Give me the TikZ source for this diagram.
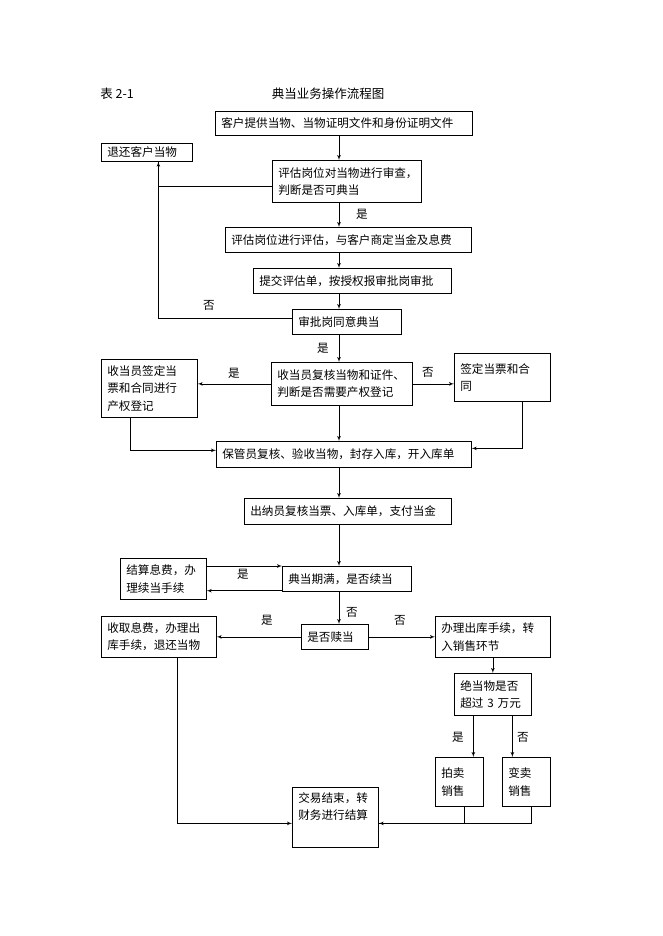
\documentclass[tikz,border=0pt]{standalone}
\usepackage{fontspec}
\setmainfont{Noto Sans CJK SC}
\usepackage{tikz}
\usetikzlibrary{arrows}
\newcommand{\boxfont}{\fontsize{11.6pt}{17.5pt}\selectfont}
\newcommand{\headfont}{\fontsize{12.5pt}{15pt}\selectfont}
\tikzstyle{block} = [draw, rectangle, anchor=north west, align=left, inner xsep=6pt, inner ysep=2pt, font=\boxfont]
\tikzstyle{lbl} = [inner sep=0pt, font=\boxfont]

\begin{document}
\begin{tikzpicture}[x=1pt, y=-1pt, >=latex', line width=0.7pt]
	\useasboundingbox (0,0) rectangle (662,936);
	\node [anchor=west, inner sep=0pt, font=\headfont] (tabno) at (100,94) {表 2-1};
	\node [inner sep=0pt, font=\headfont] (title) at (328,94) {典当业务操作流程图};

	\node [block, text width=245pt, minimum height=24pt] (provide) at (215,111) {客户提供当物、当物证明文件和身份证明文件};
	\node [block, text width=79pt, minimum height=18pt] (returnback) at (101,143) {退还客户当物};
	\node [block, text width=137pt, minimum height=42pt] (review) at (272,160) {评估岗位对当物进行审查，\\判断是否可典当};
	\node [block, text width=234pt, minimum height=25pt] (assess) at (225,227) {评估岗位进行评估，与客户商定当金及息费};
	\node [block, text width=186pt, minimum height=25pt] (submit) at (253,268) {提交评估单，按授权报审批岗审批};
	\node [block, text width=97pt, minimum height=25pt] (approve) at (292,309) {审批岗同意典当};
	\node [block, text width=129pt, minimum height=43pt] (check) at (271,362) {收当员复核当物和证件、\\判断是否需要产权登记};
	\node [block, text width=84pt, minimum height=58pt] (regist) at (101,359) {收当员签定当\\票和合同进行\\产权登记};
	\node [block, text width=84pt, minimum height=48pt] (sign) at (454,353) {签定当票和合\\同};
	\node [block, text width=243pt, minimum height=26pt] (store) at (216,441) {保管员复核、验收当物，封存入库，开入库单};
	\node [block, text width=195pt, minimum height=26pt] (pay) at (244,498) {出纳员复核当票、入库单，支付当金};
	\node [block, text width=117pt, minimum height=25pt] (expire) at (282,566) {典当期满，是否续当};
	\node [block, text width=74pt, minimum height=41pt] (renew) at (120,558) {结算息费，办\\理续当手续};
	\node [block, text width=55pt, minimum height=25pt] (redeem) at (301,624) {是否赎当};
	\node [block, text width=103pt, minimum height=41pt] (giveback) at (101,616) {收取息费，办理出\\库手续，退还当物};
	\node [block, text width=103pt, minimum height=41pt] (sell) at (435,616) {办理出库手续，转\\入销售环节};
	\node [block, text width=65pt, minimum height=42pt] (exceed) at (454,673) {绝当物是否\\超过 3 万元};
	\node [block, text width=36pt, minimum height=49pt] (auction) at (435,757) {拍卖\\销售};
	\node [block, text width=36pt, minimum height=49pt] (resell) at (502,757) {变卖\\销售};
	\node [block, text width=74pt, minimum height=60pt, text depth=40pt] (finish) at (292,787) {交易结束，转\\财务进行结算};

	\coordinate (spine) at (339,0);

	\draw[->] (provide.south -| spine) -- (review.north -| spine);
	\draw[->] ([yshift=-5pt]review.west) -| ([xshift=11.5pt]returnback.south);
	\draw ([yshift=3.5pt]approve.west) -| ([xshift=11.5pt]returnback.south);
	\draw[->] (review.south -| spine) -- (assess.north -| spine);
	\draw[->] (assess.south -| spine) -- (submit.north -| spine);
	\draw[->] (submit.south -| spine) -- (approve.north -| spine);
	\draw[->] (approve.south -| spine) -- (check.north -| spine);
	\draw[->] (check.west) -- (check.west -| regist.east);
	\draw[->] (check.east) -- (check.east -| sign.west);
	\draw[->] (check.south -| spine) -- (store.north -| spine);
	\draw[->] ([xshift=-19pt]regist.south) |- ([yshift=4pt]store.west);
	\draw[->] ([xshift=20pt]sign.south) |- ([yshift=6pt]store.east);
	\draw[->] (store.south -| spine) -- (pay.north -| spine);
	\draw[->] (pay.south -| spine) -- (expire.north -| spine);
	\draw[->] (renew.east |- expire.north west) -- (expire.north west);
	\draw[->] ([yshift=1pt]expire.south west) -- ([yshift=1pt]expire.south west -| renew.east);
	\draw[->] (expire.south -| spine) -- (redeem.north -| spine);
	\draw[->] (redeem.west) -- (redeem.west -| giveback.east);
	\draw[->] (redeem.east) -- (redeem.east -| sell.west);
	\draw[->] (sell.south) -- (sell.south |- exceed.north);
	\draw[->] ([xshift=-19.5pt]exceed.south) -- ([xshift=-19.5pt]exceed.south |- auction.north);
	\draw[->] ([xshift=19.5pt]exceed.south) -- ([xshift=19.5pt]exceed.south |- resell.north);
	\draw[->] ([xshift=18.5pt]giveback.south) |- ([yshift=-6pt]finish.west);
	\draw ([xshift=5pt]auction.south) |- ([yshift=-6pt]finish.east);
	\draw[->] ([xshift=5pt]resell.south) |- ([yshift=-6pt]finish.east);

	\node [lbl] (yes1) at (362,214) {是};
	\node [lbl] (no1) at (209,305) {否};
	\node [lbl] (yes2) at (323,348) {是};
	\node [lbl] (yes3) at (234,373) {是};
	\node [lbl] (no2) at (428,372) {否};
	\node [lbl] (yes4) at (243,574) {是};
	\node [lbl] (no3) at (352,612) {否};
	\node [lbl] (yes5) at (267,620) {是};
	\node [lbl] (no4) at (400,620) {否};
	\node [lbl] (yes6) at (458,737) {是};
	\node [lbl] (no5) at (523,737) {否};
\end{tikzpicture}
\end{document}
